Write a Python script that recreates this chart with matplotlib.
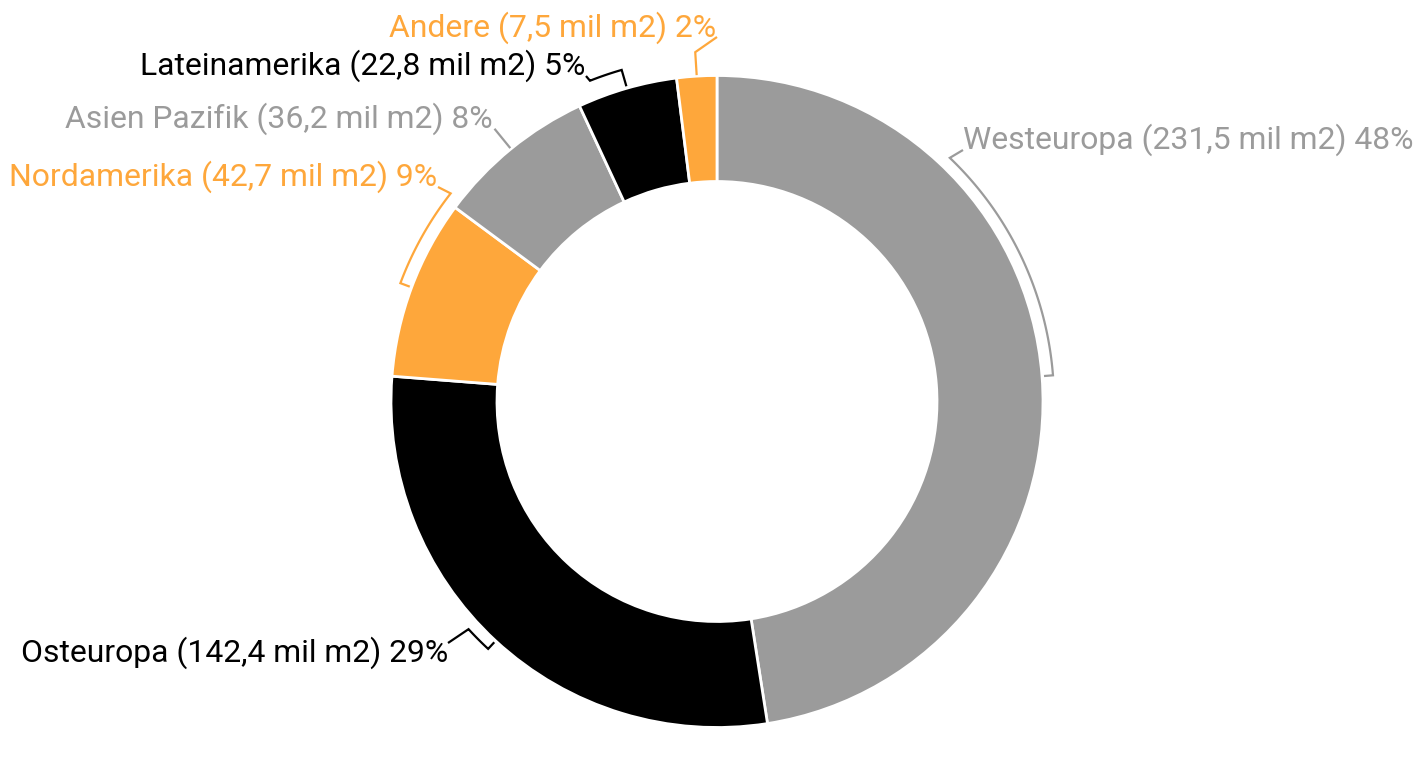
import matplotlib.pyplot as plt
import numpy as np

# slice shares in percent (the ring is drawn from these) and the areas shown in the labels
regions = ["Westeuropa", "Osteuropa", "Nordamerika", "Asien Pazifik", "Lateinamerika", "Andere"]
shares = [48, 29, 9, 8, 5, 2]
areas = ["231,5", "142,4", "42,7", "36,2", "22,8", "7,5"]

GRAY = "#9b9b9b"
ORANGE = "#fea73b"
BLACK = "#000000"
colors = [GRAY, BLACK, ORANGE, GRAY, BLACK, ORANGE]

W, H = 1428, 761
cx, cy = 717, H - 401.5
R_OUT, R_IN = 326, 220

plt.rcParams['font.family'] = ['Roboto', 'DejaVu Sans']

fig = plt.figure(figsize=(W / 100, H / 100), dpi=100)
ax = fig.add_axes([0, 0, 1, 1])
ax.pie(shares, colors=colors, startangle=90, counterclock=False,
       center=(cx, cy), radius=R_OUT,
       wedgeprops=dict(width=R_OUT - R_IN, edgecolor="white", linewidth=2))
ax.set_xlim(0, W)
ax.set_ylim(0, H)
ax.set_aspect("equal")
ax.axis("off")

# mid angle of every slice (degrees, counter-clockwise from 3 o'clock), kept in [0, 360)
bounds = 90 - 360 * np.cumsum([0] + shares) / sum(shares)
mids = ((bounds[:-1] + bounds[1:]) / 2) % 360


def pt(ang, r):
    a = np.radians(ang)
    return cx + r * np.cos(a), cy + r * np.sin(a)


# label layout: text anchor (pixel coords), alignment, bracket arc end angle, bracket radius
# kind "bracket" = arc from the slice mid to the end angle, "radial" = straight leader
layout = [
    dict(x=963, y=149, ha="left", kind="bracket", end=46.3, r=337, join=(963, 150)),
    dict(x=448, y=662, ha="right", kind="bracket", end=222.5, r=337, join=(448, 643)),
    dict(x=437, y=186, ha="right", kind="bracket", end=142.0, r=338, join=(438, 187)),
    dict(x=493, y=128, ha="right", kind="radial", r=352, join=None),
    dict(x=585, y=75, ha="right", kind="bracket", end=111.6, r=345, join=(586, 76)),
    dict(x=716, y=37, ha="right", kind="radial", r=350, join=(717, 37)),
]

for name, share, area, col, mid, lay in zip(regions, shares, areas, colors, mids, layout):
    ax.text(lay["x"], H - lay["y"], f"{name} ({area} mil m2) {share}%",
            ha=lay["ha"], va="baseline", fontsize=22.95, color=col)
    if lay["kind"] == "bracket":
        angs = np.linspace(mid, lay["end"], 60)
        xs, ys = pt(angs, lay["r"])
        tx, ty = pt(mid, R_OUT + 2)
        xs = np.concatenate([[tx], xs])
        ys = np.concatenate([[ty], ys])
    else:
        x0, y0 = pt(mid, R_OUT + 1)
        x1, y1 = pt(mid, lay["r"])
        xs = np.array([x0, x1])
        ys = np.array([y0, y1])
    if lay["join"] is not None:
        xs = np.append(xs, lay["join"][0])
        ys = np.append(ys, H - lay["join"][1])
    ax.plot(xs, ys, color=col, lw=1.6, solid_capstyle="butt", solid_joinstyle="miter")

fig.savefig("out.png", dpi=100)
